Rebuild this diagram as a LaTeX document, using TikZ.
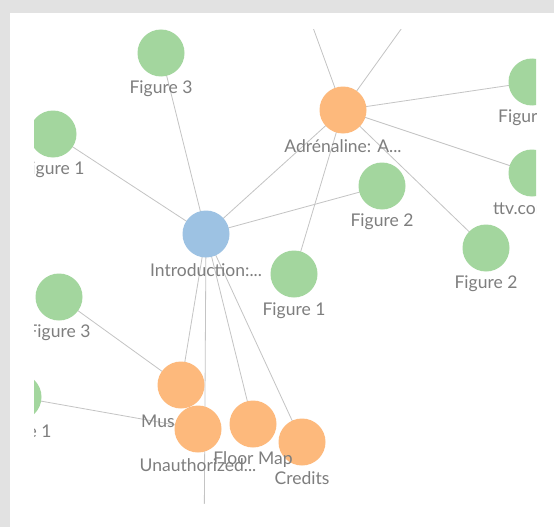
\documentclass[tikz,border=0pt]{standalone}
\usepackage{fontspec}
\setmainfont{Lato}
\begin{document}
\begin{tikzpicture}[x=1pt,y=-1pt,
  edge/.style={draw=edgegray,line width=0.8pt},
  dot/.style={circle,minimum size=47pt,inner sep=0pt,draw=none},
  gdot/.style={dot,fill=ngreen},
  odot/.style={dot,fill=norange},
  bdot/.style={dot,fill=nblue},
  lbl/.style={text=lblgray,font=\fontsize{17.5}{17.5}\selectfont,inner sep=0pt}]
\definecolor{edgegray}{HTML}{C4C4C4}
\definecolor{ngreen}{HTML}{A3D69E}
\definecolor{norange}{HTML}{FDB97C}
\definecolor{nblue}{HTML}{9DC2E3}
\definecolor{lblgray}{HTML}{7E7E7E}
\definecolor{frame}{HTML}{E2E2E2}
\useasboundingbox (0,0) rectangle (554,527);
\fill[frame] (0,0) rectangle (554,527);
\fill[white] (10,13) rectangle (554,527);
\begin{scope}
\clip (34,30) rectangle (536,503);
% coordinates
\coordinate (offA) at (303,0);
\coordinate (offB) at (422,0);
\coordinate (offC) at (204,560);
\path
  (206,234) coordinate (pintro)
  (343,110) coordinate (padr)
  (161,53) coordinate (pft3)
  (53,134) coordinate (pfl1)
  (532,82) coordinate (pftr)
  (532,173) coordinate (pttv)
  (382,186) coordinate (pf2m)
  (486,248) coordinate (pf2r)
  (294,274) coordinate (pf1m)
  (59,297) coordinate (pfl3)
  (18,397) coordinate (pflb)
  (181,385) coordinate (pmus)
  (198,429) coordinate (punauth)
  (253,424) coordinate (pfloor)
  (302,442) coordinate (pcredits);
% edges
\draw[edge] (pintro) -- (pft3);
\draw[edge] (pintro) -- (pfl1);
\draw[edge] (pintro) -- (padr);
\draw[edge] (pintro) -- (pf2m);
\draw[edge] (pintro) -- (pmus);
\draw[edge] (pintro) -- (offC);
\draw[edge] (pintro) -- (pfloor);
\draw[edge] (pintro) -- (pcredits);
\draw[edge] (padr) -- (offA);
\draw[edge] (padr) -- (offB);
\draw[edge] (padr) -- (pftr);
\draw[edge] (padr) -- (pttv);
\draw[edge] (padr) -- (pf2r);
\draw[edge] (padr) -- (pf1m);
\draw[edge] (pfl3) -- (pmus);
\draw[edge] (pflb) -- (punauth);
% nodes and labels
\node[gdot] (ft3) at (pft3) {};
\node[lbl] (lft3) at ([yshift=-36pt]pft3) {Figure 3};
\node[gdot] (fl1) at (pfl1) {};
\node[lbl] (lfl1) at ([yshift=-36pt]pfl1) {Figure 1};
\node[gdot] (ftr) at (pftr) {};
\node[lbl,anchor=west] (lftr) at (498,118) {Figure};
\node[gdot] (ttv) at (pttv) {};
\node[lbl,anchor=west] (lttv) at (493,209) {ttv.com};
\node[odot] (adr) at (padr) {};
\node[lbl] (ladr) at ([yshift=-36pt]padr) {Adrénaline: A...};
\node[gdot] (f2m) at (pf2m) {};
\node[lbl] (lf2m) at ([yshift=-36pt]pf2m) {Figure 2};
\node[gdot] (f2r) at (pf2r) {};
\node[lbl] (lf2r) at ([yshift=-36pt]pf2r) {Figure 2};
\node[bdot] (intro) at (pintro) {};
\node[lbl] (lintro) at ([yshift=-36pt]pintro) {Introduction:...};
\node[gdot] (f1m) at (pf1m) {};
\node[lbl] (lf1m) at ([yshift=-37pt]pf1m) {Figure 1};
\node[gdot] (fl3) at (pfl3) {};
\node[lbl] (lfl3) at ([yshift=-36pt]pfl3) {Figure 3};
\node[gdot] (flb) at (pflb) {};
\node[lbl] (lflb) at ([xshift=2pt,yshift=-36pt]pflb) {Figure 1};
\node[odot] (mus) at (pmus) {};
\node[lbl,anchor=west] (lmus) at (141,421) {Mus};
\node[odot] (unauth) at (punauth) {};
\node[lbl] (lunauth) at ([yshift=-36pt]punauth) {Unauthorized...};
\node[odot] (credits) at (pcredits) {};
\node[lbl] (lcredits) at ([yshift=-36pt]pcredits) {Credits};
\node[odot] (floor) at (pfloor) {};
\node[lbl] (lfloor) at ([yshift=-36pt]pfloor) {Floor Map};
\end{scope}
\end{tikzpicture}
\end{document}
